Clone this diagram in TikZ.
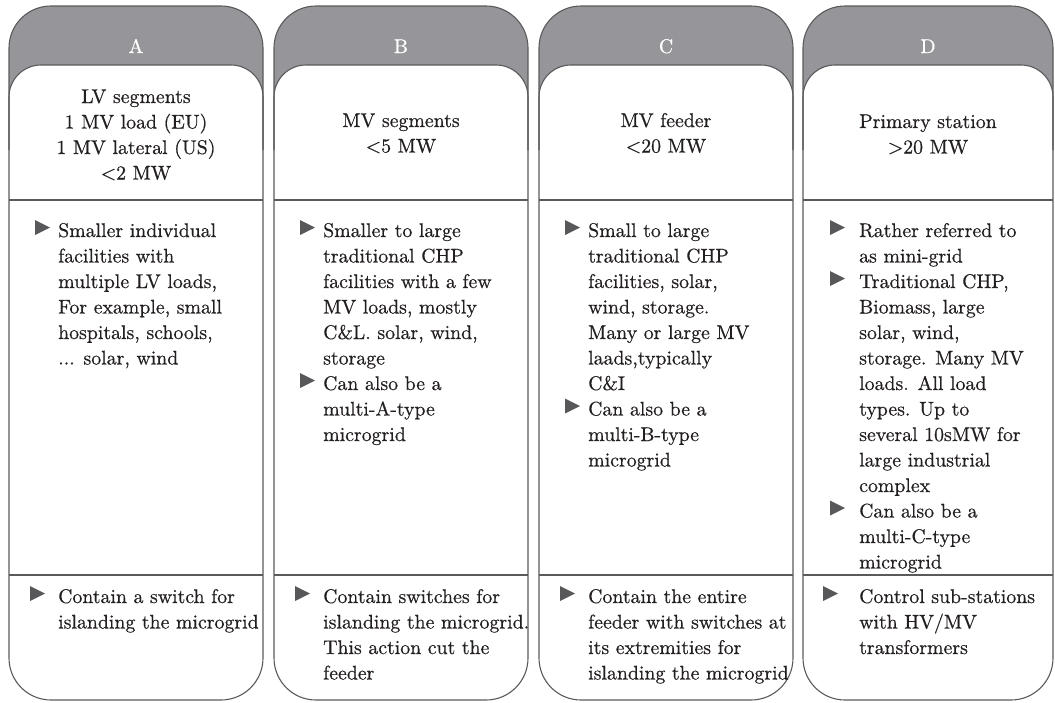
\documentclass[tikz,border=0pt]{standalone}
\usepackage{fontspec}
\setmainfont{lmroman10-regular.otf}[FakeBold=0.5]
\definecolor{hdrg}{RGB}{150,150,154}
\definecolor{lineg}{RGB}{90,90,92}
\definecolor{trig}{RGB}{88,88,90}
\definecolor{txt}{RGB}{35,31,32}
\newcommand\bodyfont{\fontsize{19.8}{25.5}\selectfont}
% one column frame: grey cap, white rounded panel, outline, two rules
\newcommand\colframe[2]{%
  \fill[hdrg, rounded corners=42pt] (#1,6) rectangle (#2,200);
  \fill[white, rounded corners=32pt] (#1,300) -- (#1,65) -- (#2,65) -- (#2,300) -- cycle;
  \draw[outl, rounded corners=32pt] (#1,150) -- (#1,65) -- (#2,65) -- (#2,150);
  \draw[outl, rounded corners=42pt] (#1,6) rectangle (#2,700);
  \draw[outl] (#1,200) -- (#2,200);
  \draw[outl] (#1,575) -- (#2,575);
}
% bullet triangle whose base line is at y=#2
\newcommand\marker[2]{\fill[tri] (#1,#2) ++(0,-17) -- ++(0,15) -- ++(15,-7.5) -- cycle;}
\newcommand\leftlines[1]{\parbox[t]{240pt}{\raggedright #1}}
\newcommand\midlines[1]{\parbox[t]{240pt}{\centering #1}}
\begin{document}
\begin{tikzpicture}[x=1pt,y=-1pt,
  outl/.style={draw=lineg, line width=1.1pt},
  tri/.style={fill=trig},
  letter/.style={text=white, font=\bodyfont, inner sep=0pt, anchor=base},
  title/.style={text=txt, font=\bodyfont, inner sep=0pt, anchor=base},
  item/.style={text=txt, font=\bodyfont, inner sep=0pt, anchor=base west}]
\useasboundingbox (0,0) rectangle (1055,702);

\colframe{9}{263}
\colframe{274}{528}
\colframe{539}{793}
\colframe{803}{1053}

% column headers
\node[letter] (la) at (136,53) {A};
\node[letter] (lb) at (401,53) {B};
\node[letter] (lc) at (666,53) {C};
\node[letter] (ld) at (928,53) {D};

% size classes
\node[title] (ta) at (136,103) {\midlines{LV segments\\1 MV load (EU)\\1 MV lateral (US)\\<2 MW}};
\node[title] (tb) at (401,127) {\midlines{MV segments\\<5 MW}};
\node[title] (tc) at (666,127) {\midlines{MV feeder\\<20 MW}};
\node[title] (td) at (928,128) {\midlines{Primary station\\>20 MW}};

% column A
\marker{35}{237}
\node[item] (a1) at (58,237) {\leftlines{Smaller individual\\facilities with\\multiple LV loads,\\For example, small\\hospitals, schools,\\... solar, wind}};
\marker{30}{603}
\node[item] (a2) at (58,603) {\leftlines{Contain a switch for\\islanding the microgrid}};

% column B
\marker{300}{237}
\node[item] (b1) at (323,237) {\leftlines{Smaller to large\\traditional CHP\\facilities with a few\\MV loads, mostly\\C\&L. solar, wind,\\storage}};
\marker{300}{390}
\node[item] (b2) at (323,390) {\leftlines{Can also be a\\multi-A-type\\microgrid}};
\marker{295}{603}
\node[item] (b3) at (323,603) {\leftlines{Contain switches for\\islanding the microgrid.\\This action cut the\\feeder}};

% column C
\marker{565}{237}
\node[item] (c1) at (588,237) {\leftlines{Small to large\\traditional CHP\\facilities, solar,\\wind, storage.\\Many or large MV\\laads,typically\\C\&I}};
\marker{565}{415.5}
\node[item] (c2) at (588,415.5) {\leftlines{Can also be a\\multi-B-type\\microgrid}};
\marker{560}{603}
\node[item] (c3) at (588,603) {\leftlines{Contain the entire\\feeder with switches at\\its extremities for\\islanding the microgrid}};

% column D
\marker{830}{237}
\node[item] (d1) at (859,237) {\leftlines{Rather referred to\\as mini-grid}};
\marker{830}{288}
\node[item] (d2) at (859,288) {\leftlines{Traditional CHP,\\Biomass, large\\solar, wind,\\storage. Many MV\\loads. All load\\types. Up to\\several 10sMW for\\large industrial\\complex}};
\marker{830}{517.5}
\node[item] (d3) at (859,517.5) {\leftlines{Can also be a\\multi-C-type\\microgrid}};
\marker{823}{603}
\node[item] (d4) at (859,603) {\leftlines{Control sub-stations\\with HV/MV\\transformers}};
\end{tikzpicture}
\end{document}
